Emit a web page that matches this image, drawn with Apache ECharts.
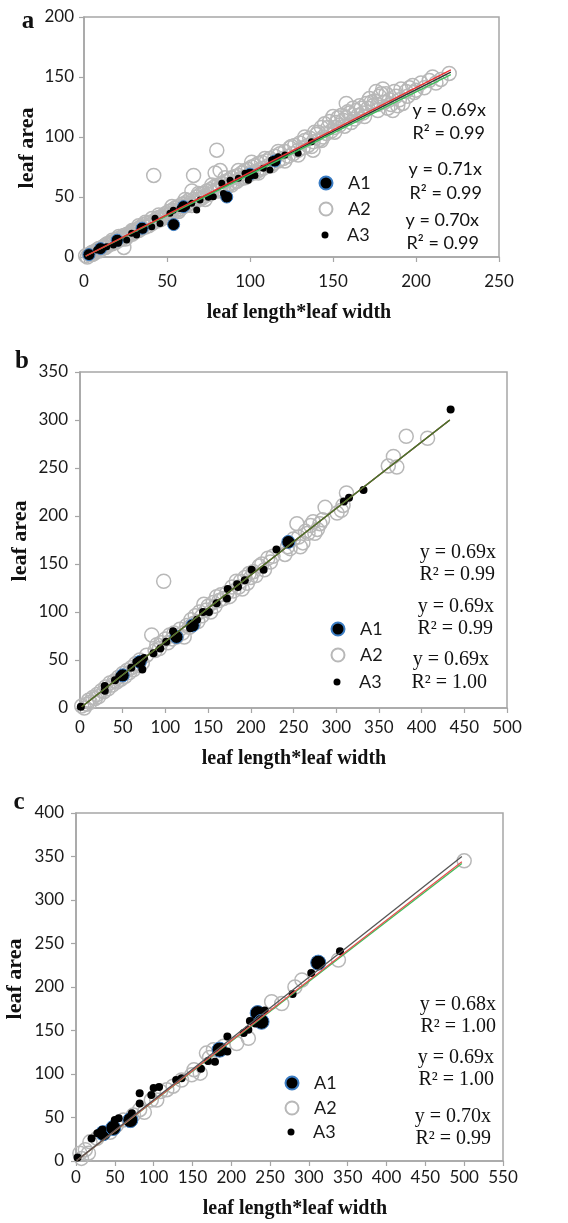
<!DOCTYPE html>
<html><head><meta charset="utf-8">
<script src="https://cdn.jsdelivr.net/npm/echarts@6/dist/echarts.min.js"></script>
<style>html,body{margin:0;padding:0;background:#fff}#c{width:568px;height:1223px}</style>
</head><body><div id="c"></div>
<script>
// ---------- DATA ----------
var seriesNames = ['A1', 'A2', 'A3'];
// panel a
var aXTicks = {min: 0, max: 250, interval: 50};
var aYTicks = {min: 0, max: 200, interval: 50};
var a_A1 = [[3,2],[10,7],[20,14],[35,24],[54,27],[60,42],[86,50],[100,69],[115,80]];
var a_A2 = [[1,1],[2,0],[3,2],[4,3],[5,4],[6,3],[7,5],[8,6],[9,7],[10,6],[11,8],[12,9],[13,8],[14,11],[15,10],[16,12],[17,11],[18,13],[19,12],[20,15],[21,14],[22,16],[23,15],[24,8],[24,18],[25,17],[26,19],[27,18],[28,20],[29,19],[30,22],[31,21],[32,23],[33,22],[34,25],[35,24],[36,27],[37,25],[38,28],[39,26],[40,29],[41,28],[42,68],[43,31],[44,30],[45,33],[46,31],[47,34],[48,33],[49,36],[50,35],[51,38],[52,36],[53,39],[54,37],[55,41],[56,39],[57,42],[58,40],[59,44],[60,42],[61,45],[62,43],[63,47],[64,45],[65,55],[66,68],[66,48],[67,46],[68,50],[69,48],[70,52],[71,49],[72,53],[73,51],[74,55],[75,52],[76,56],[77,54],[78,58],[79,70],[80,89],[80,56],[81,60],[82,72],[82,57],[83,61],[84,59],[85,63],[86,58],[87,64],[88,61],[89,66],[90,62],[91,67],[92,63],[93,68],[94,65],[95,70],[96,66],[97,72],[98,67],[99,73],[100,69],[101,75],[102,70],[103,76],[104,71],[105,78],[106,73],[107,79],[108,74],[110,80],[111,76],[112,82],[114,78],[115,84],[117,80],[118,86],[120,82],[121,88],[123,84],[124,91],[126,86],[127,93],[129,89],[130,95],[132,91],[133,97],[135,93],[136,99],[138,89],[138,96],[140,102],[141,104],[142,98],[143,108],[144,100],[145,111],[146,103],[148,113],[149,105],[150,117],[151,108],[152,112],[154,110],[155,118],[156,114],[158,128],[158,116],[160,120],[161,112],[162,124],[164,122],[165,118],[166,126],[168,120],[170,128],[171,124],[172,132],[174,126],[175,130],[176,138],[177,127],[178,134],[180,140],[181,129],[182,136],[184,131],[185,127],[186,122],[188,134],[190,131],[192,128],[194,138],[196,141],[198,143],[200,139],[205,141],[208,147],[212,145],[220,153],
  [5,2],[9,5],[13,10],[17,14],[21,17],[25,15],[29,22],[33,26],[37,29],[41,32],[45,35],[49,33],[53,42],[57,38],[61,48],[65,43],[69,53],[73,48],[77,60],[81,55],[85,66],[89,60],[93,72],[97,66],[101,79],[105,70],[109,82],[113,76],[117,88],[121,80],[125,92],[129,85],[133,100],[137,92],[139,104],[143,97],[147,108],[151,104],[153,116],[157,109],[159,121],[163,115],[167,124],[169,117],[173,129],[177,122],[179,136],[183,124],[187,138],[189,126],[191,140],[195,134],[199,137],[203,145],[210,150],[215,148]];
var a_A3 = [[2.6,1.7],[7.6,5.8],[13.7,8.6],[17.7,10],[20.7,11.4],[25.7,14.2],[28.7,19.7],[31.7,18.3],[35.7,22.5],[40.8,25.3],[42.8,32.2],[45.8,28],[51.8,36.4],[53.8,39],[57.8,40.5],[61.8,42],[64.9,44.7],[67.9,39.2],[69.9,47.5],[74.9,49.7],[77.9,50.3],[83,61.4],[84,53],[88,64],[93,65.6],[97,69.7],[99,64],[103,68],[108,74],[112,72.5],[113,80.8],[117,83.6],[121,85],[129,86.4],[137,96]];
var a_lineBlack = [[1,0.7],[221,154]];
var a_lineRed = [[1,0.7],[221,156]];
var a_lineGreen = [[1,0.7],[221,152]];
var a_eq = ['y = 0.69x','R² = 0.99','y = 0.71x','R² = 0.99','y = 0.70x','R² = 0.99'];

// panel b
var bXTicks = {min: 0, max: 500, interval: 50};
var bYTicks = {min: 0, max: 350, interval: 50};
var b_A1 = [[50,34],[70,48],[113,74],[132,86],[244,173]];
var b_A2 = [[2,2],[5,0],[8,4],[10,8],[12,6],[15,11],[18,10],[20,14],[22,12],[25,18],[28,17],[30,22],[33,20],[35,26],[38,24],[40,28],[43,27],[45,32],[48,30],[50,36],[53,33],[55,39],[58,37],[60,42],[63,40],[65,46],[68,44],[70,50],[73,47],[78,55],[84,76],[88,60],[90,66],[93,62],[95,68],[98,132],[100,72],[103,68],[105,76],[108,72],[110,78],[113,74],[117,82],[120,78],[122,74],[125,86],[128,84],[130,92],[133,88],[135,96],[138,90],[140,100],[143,96],[145,108],[148,102],[150,106],[153,100],[156,110],[158,106],[160,116],[163,112],[165,118],[168,114],[172,120],[175,116],[178,126],[180,122],[183,132],[186,126],[188,132],[190,124],[193,136],[196,130],[198,140],[200,136],[203,142],[206,138],[210,148],[213,150],[216,144],[220,156],[223,152],[226,158],[240,160],[243,168],[246,166],[250,176],[254,192],[256,178],[258,168],[261,172],[264,184],[267,182],[270,190],[273,194],[275,182],[278,186],[281,192],[284,196],[287,209],[301,203],[306,206],[308,211],[312,224],[361,252],[367,262],[371,251],[382,283],[407,281]];
var b_A3 = [[1,1.4],[29,18],[29,23],[41,29],[46,33],[60,42],[66,48],[73,40],[75,52],[86,57],[94,62],[101,69],[109,80],[115,74],[129,83],[137,92],[144,100],[151,100],[160,109],[172,114],[173,124],[185,126],[184,129],[193,133],[201,144],[215,144],[230,165],[309,215],[315,219],[332,227],[434,311]];
var b_lineBlack = [[2,1.4],[433,300]];
var b_lineRed = [[2,1.4],[433,300]];
var b_lineGreen = [[2,1.4],[433,300]];
var b_eq = ['y = 0.69x','R² = 0.99','y = 0.69x','R² = 0.99','y = 0.69x','R² = 1.00'];

// panel c
var cXTicks = {min: 0, max: 550, interval: 50};
var cYTicks = {min: 0, max: 400, interval: 50};
var c_A1 = [[35,32],[48,38],[70,47],[185,128],[234,170],[239,160],[312,228]];
var c_A2 = [[5,9],[7,3],[12,13],[16,9],[18,22],[27,26],[35,32],[44,33],[52,41],[61,47],[74,53],[82,59],[88,56],[97,70],[104,70],[109,80],[117,82],[125,86],[136,93],[149,99],[152,105],[160,101],[168,124],[172,119],[177,128],[190,132],[207,135],[222,141],[252,183],[265,181],[282,200],[291,208],[338,231],[500,345]];
var c_A3 = [[2,4],[20,26],[27.5,32],[34,36],[50,47],[55,49],[72,55],[82,66],[82,78],[97,76],[100,84],[107,85],[129,93],[136,95],[161,106],[170,115],[179,114],[195,126],[195,143],[216,147],[222,151],[224,161],[231,158],[243,173],[279,192],[303,216],[340,241]];
var c_lineBlack = [[1,0.7],[497,350]];
var c_lineRed = [[1,0.7],[497,344]];
var c_lineGreen = [[1,0.7],[497,342]];
var c_eq = ['y = 0.68x','R² = 1.00','y = 0.69x','R² = 1.00','y = 0.70x','R² = 0.99'];

// ---------- LAYOUT ----------
var AXIS = '#a6a6a6';
var grids = [
  {left: 84, top: 17, width: 415, height: 240},
  {left: 80, top: 372, width: 427, height: 336},
  {left: 76, top: 813, width: 427, height: 348}
];
var xLabelMargin = [16, 11, 8];
var yLabelMargin = [10, 12, 12];
var ticks = [[aXTicks, aYTicks],[bXTicks, bYTicks],[cXTicks, cYTicks]];

function axis(i, t, margin) {
  return {
    gridIndex: i, type: 'value', min: t.min, max: t.max, interval: t.interval,
    axisLine: {show: true, onZero: false, lineStyle: {color: AXIS, width: 1.5}},
    axisTick: {show: true, length: 5, lineStyle: {color: AXIS, width: 1.2}},
    splitLine: {show: false},
    axisLabel: {margin: margin, color: '#1a1a1a', fontFamily: 'Lato', fontSize: 17}
  };
}

var xAxes = [], yAxes = [];
for (var i = 0; i < 3; i++) {
  xAxes.push(axis(i, ticks[i][0], xLabelMargin[i]));
  yAxes.push(axis(i, ticks[i][1], yLabelMargin[i]));
}

var styleA1 = {color: '#000', borderColor: '#3b7dc4', borderWidth: 1, opacity: 1};
var styleA2 = {color: 'rgba(255,255,255,0)', borderColor: '#b8b8b8', borderWidth: 1.5, opacity: 1};
var styleA3 = {color: '#000', opacity: 1};

var panels = [
  {A1: a_A1, A2: a_A2, A3: a_A3, s: [12, 14, 7], lines: [a_lineBlack, a_lineGreen, a_lineRed], lc: ['#333333', '#3cc05a', '#ee3030']},
  {A1: b_A1, A2: b_A2, A3: b_A3, s: [13, 14, 8], lines: [b_lineBlack, b_lineRed, b_lineGreen], lc: ['#333333', '#e04040', '#3d7d2e']},
  {A1: c_A1, A2: c_A2, A3: c_A3, s: [15, 14, 8], lines: [c_lineGreen, c_lineRed, c_lineBlack], lc: ['#3cc05a', '#e85050', '#555555']}
];

var series = [];
panels.forEach(function (p, i) {
  series.push({name: 'A2', type: 'scatter', xAxisIndex: i, yAxisIndex: i, data: p.A2, symbolSize: p.s[1], itemStyle: styleA2, silent: true, z: 2});
  series.push({name: 'A1', type: 'scatter', xAxisIndex: i, yAxisIndex: i, data: p.A1, symbolSize: p.s[0], itemStyle: styleA1, silent: true, z: 3});
  series.push({name: 'A3', type: 'scatter', xAxisIndex: i, yAxisIndex: i, data: p.A3, symbolSize: p.s[2], itemStyle: styleA3, silent: true, z: 4});
  p.lines.forEach(function (ln, k) {
    series.push({type: 'line', xAxisIndex: i, yAxisIndex: i, data: ln, showSymbol: false, symbol: 'none',
      lineStyle: {color: p.lc[k], width: 1.3}, silent: true, z: 5 + k});
  });
});

// legends
var legendPos = [
  {cx: 325, cy: [183, 209, 235], tx: 347},
  {cx: 337, cy: [629, 655, 682], tx: 359},
  {cx: 291, cy: [1083, 1108, 1132], tx: 313}
];
var legendIcon = [[13, 13, 7], [13, 13, 7], [13, 13, 7]];
var legends = [];
legendPos.forEach(function (lp, i) {
  seriesNames.forEach(function (nm, k) {
    var sz = legendIcon[i][k];
    legends.push({
      data: [nm], orient: 'vertical', left: lp.cx - sz / 2, top: lp.cy[k] - 10, padding: 0,
      itemWidth: sz, itemHeight: sz, icon: 'circle', selectedMode: false,
      textStyle: {fontFamily: 'Lato', fontSize: 18, color: '#1a1a1a', lineHeight: 20,
        padding: [0, 0, 0, lp.tx - (lp.cx + sz / 2) - 5]}
    });
  });
});

// equation texts
var eqPos = [
  {right: [486, 485, 482, 482, 479, 479], y: [110, 133, 169, 193, 220, 243], font: '18px Lato', list: a_eq},
  {right: [496, 495, 494, 493, 489, 487], y: [553, 575, 607, 629, 660, 683], font: '20px "Liberation Serif"', list: b_eq},
  {right: [496, 496, 494, 494, 491, 491], y: [1005, 1027, 1058, 1080, 1117, 1139], font: '20px "Liberation Serif"', list: c_eq}
];
var graphics = [];
eqPos.forEach(function (e) {
  e.list.forEach(function (t, k) {
    graphics.push({type: 'text', x: e.right[k], y: e.y[k],
      style: {text: t, font: e.font, fill: '#111', textAlign: 'right', textVerticalAlign: 'middle'}});
  });
});
// axis titles + panel letters
var xTitle = 'leaf length*leaf width', yTitle = 'leaf area', letters = ['a', 'b', 'c'];
var xTitlePos = [[299, 313], [294, 759], [295, 1209]];
var yTitlePos = [[27, 148], [20, 541], [15, 979]];
var letterPos = [[28, 22], [22, 362], [19, 803]];
for (var j = 0; j < 3; j++) {
  graphics.push({type: 'text', x: xTitlePos[j][0], y: xTitlePos[j][1],
    style: {text: xTitle, font: 'bold 20px "Liberation Serif"', fill: '#111', textAlign: 'center', textVerticalAlign: 'middle'}});
  graphics.push({type: 'text', x: yTitlePos[j][0], y: yTitlePos[j][1], rotation: Math.PI / 2,
    style: {text: yTitle, font: 'bold 22px "Liberation Serif"', fill: '#111', textAlign: 'center', textVerticalAlign: 'middle'}});
  graphics.push({type: 'text', x: letterPos[j][0], y: letterPos[j][1],
    style: {text: letters[j], font: 'bold 25px "Liberation Serif"', fill: '#111', textAlign: 'center', textVerticalAlign: 'middle'}});
}

var chart = echarts.init(document.getElementById('c'), null, {renderer: 'canvas'});
chart.setOption({
  animation: false,
  backgroundColor: '#fff',
  grid: grids.map(function (g) { return Object.assign({show: true, borderColor: AXIS, borderWidth: 1.5, containLabel: false}, g); }),
  xAxis: xAxes,
  yAxis: yAxes,
  legend: legends,
  series: series,
  graphic: graphics
});
</script></body></html>
